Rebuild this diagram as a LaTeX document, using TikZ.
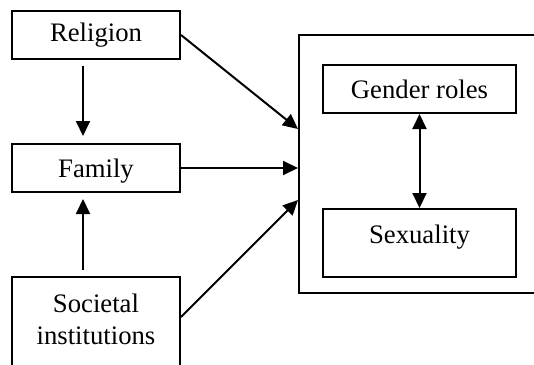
\documentclass[tikz,border=0pt]{standalone}
\usepackage{fontspec}
\setmainfont{Liberation Serif}
\usetikzlibrary{arrows.meta,calc}
\begin{document}
\begin{tikzpicture}[x=1pt,y=-1pt,
  box/.style={draw,line width=2pt,rectangle,inner sep=0pt},
  lbl/.style={inner sep=0pt,font=\fontsize{26.7}{32}\selectfont,align=center},
  arr/.style={line width=2pt,-{Triangle[length=15pt,width=14pt]}},
  darr/.style={line width=2pt,{Triangle[length=15pt,width=14pt]}-{Triangle[length=15pt,width=14pt]}}]
\useasboundingbox (0,0) rectangle (534,364);
\clip (0,0) rectangle (534,364);
% left column
\node[box,lbl,minimum width=168pt,minimum height=48pt] (rel) at (96,35) {Religion};
\node[box,minimum width=168pt,minimum height=48pt] (fam) at (96,168) {};
\node[lbl] (famt) at (96,171) {Family};
\node[box,minimum width=168pt,minimum height=113pt] (soc) at (96,333.5) {};
\node[lbl] (soct) at (96,319) {Societal\\institutions};
% right group
\node[box,minimum width=261pt,minimum height=258pt] (outer) at (429.5,164) {};
\node[box,lbl,minimum width=193pt,minimum height=48pt] (gen) at (419.5,89) {Gender roles};
\node[box,minimum width=193pt,minimum height=68pt] (sex) at (419.5,243) {};
\node[lbl] (sext) at (419.5,237) {Sexuality};
% connectors
\draw[arr] ([xshift=-13pt,yshift=-6pt]rel.south) -- ([xshift=-13pt,yshift=7pt]fam.north);
\draw[arr] ([xshift=-13pt,yshift=6pt]soc.north) -- ([xshift=-13pt,yshift=-6pt]fam.south);
\draw[arr] (rel.east) -- ([yshift=35pt]outer.west);
\draw[arr] (fam.east) -- (outer.west |- fam.east);
\draw[arr] ([yshift=16.5pt]soc.east) -- ([yshift=-36pt]outer.west);
\draw[darr] (gen.south) -- (sex.north);
\end{tikzpicture}
\end{document}
